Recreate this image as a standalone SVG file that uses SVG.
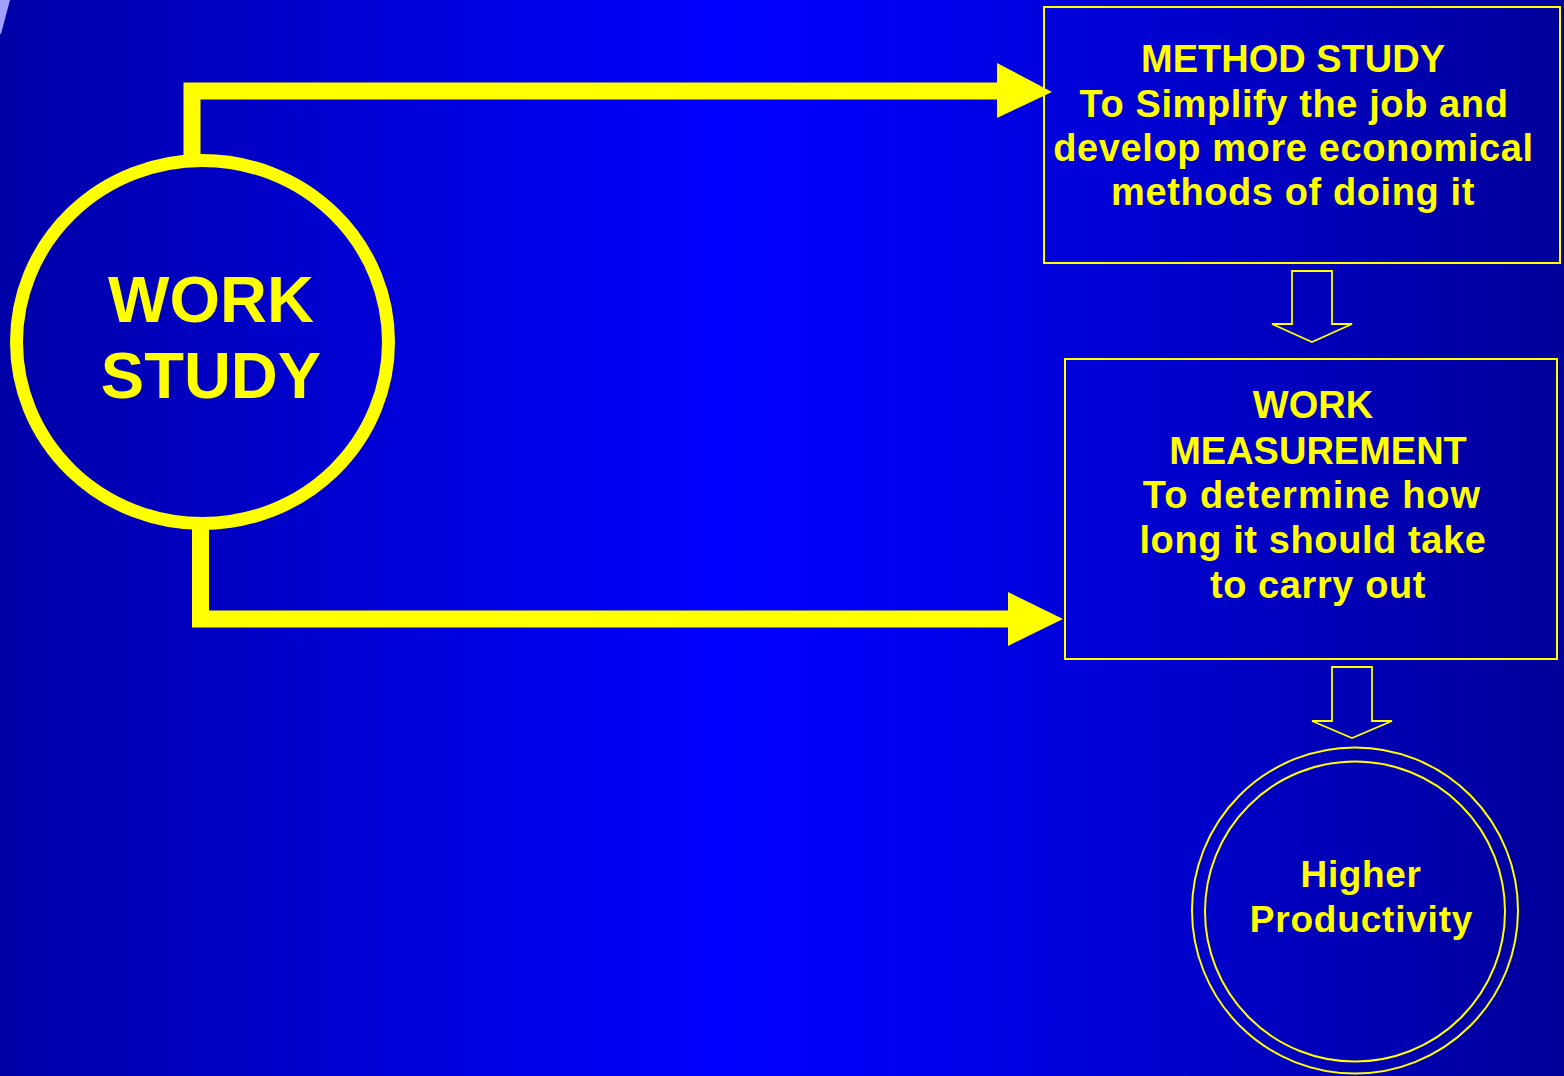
<svg xmlns="http://www.w3.org/2000/svg" width="1564" height="1076" viewBox="0 0 1564 1076">
  <defs>
    <linearGradient id="bg" x1="0" y1="0" x2="1" y2="0">
      <stop offset="0" stop-color="#0000A8"/>
      <stop offset="0.46" stop-color="#0000FF"/>
      <stop offset="0.54" stop-color="#0000F8"/>
      <stop offset="1" stop-color="#00009A"/>
    </linearGradient>
  </defs>
  <style>
    .t { font-family: "Liberation Sans", Arial, sans-serif; font-weight: bold; fill: #FFFF00; text-anchor: middle; }
    .ls { letter-spacing: 0.6px; }
    .box { fill: none; stroke: #FFFF00; stroke-width: 2; }
    .thin { fill: none; stroke: #FFFF00; stroke-width: 2; }
    .bar { fill: none; stroke: #FFFF00; stroke-width: 17; stroke-linejoin: miter; stroke-linecap: butt; }
    .head { fill: #FFFF00; }
    .blk { fill: none; stroke: #FFFF00; stroke-width: 1.8; stroke-linejoin: miter; }
  </style>
  <rect x="0" y="0" width="1564" height="1076" fill="url(#bg)"/>
  <polygon points="0,0 10,0 1,34 0,34" fill="#A0A0FF"/>

  <g id="connectors">
    <polyline class="bar" points="192,166 192,91 998,91"/>
    <polygon class="head" points="997,63 1052,92 997,118"/>
    <polyline class="bar" points="200.5,520 200.5,619 1009,619"/>
    <polygon class="head" points="1008,592 1063,619 1008,646"/>
    <polygon class="blk" points="1292,271 1332,271 1332,324 1352,324 1312,342 1272,324 1292,324"/>
    <polygon class="blk" points="1332,667 1372,667 1372,721 1392,721 1352,738 1312,721 1332,721"/>
  </g>

  <g id="work-study">
    <ellipse cx="202.5" cy="342" rx="186" ry="181.5" fill="none" stroke="#FFFF00" stroke-width="13"/>
    <text class="t" x="211" y="322" font-size="65">WORK</text>
    <text class="t" x="211" y="398" font-size="65">STUDY</text>
  </g>

  <g id="method-study">
    <rect class="box" x="1044" y="7" width="516" height="256"/>
    <text class="t" x="1293" y="72" font-size="38">METHOD STUDY</text>
    <text class="t ls" x="1294" y="117" font-size="38">To Simplify the job and</text>
    <text class="t ls" x="1293.5" y="161" font-size="38">develop more economical</text>
    <text class="t ls" x="1293" y="205" font-size="38">methods of doing it</text>
  </g>

  <g id="work-measurement">
    <rect class="box" x="1065" y="359" width="492" height="300"/>
    <text class="t" x="1313" y="418" font-size="38">WORK</text>
    <text class="t" x="1318" y="464" font-size="38">MEASUREMENT</text>
    <text class="t" x="1312" y="508" font-size="38" letter-spacing="1">To determine how</text>
    <text class="t ls" x="1313" y="553" font-size="38">long it should take</text>
    <text class="t ls" x="1318" y="598" font-size="38">to carry out</text>
  </g>

  <g id="higher-productivity">
    <circle class="thin" cx="1355" cy="910.5" r="163"/>
    <circle class="thin" cx="1355" cy="911.5" r="150"/>
    <text class="t ls" x="1361" y="887" font-size="37">Higher</text>
    <text class="t" x="1361.5" y="932" font-size="37" letter-spacing="0.8">Productivity</text>
  </g>
</svg>
